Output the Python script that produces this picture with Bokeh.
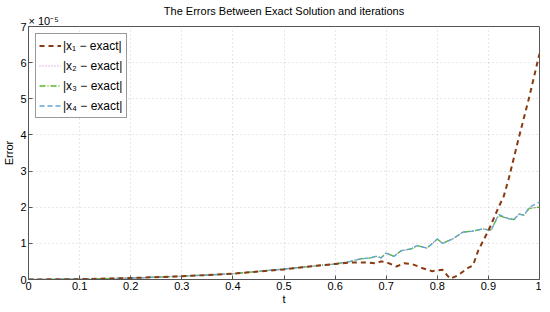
from bokeh.plotting import figure
from bokeh.models import Range1d, FixedTicker, Legend, LegendItem, Title
from bokeh.embed import file_html
from bokeh.resources import INLINE

# values are in units of 1e-5
t1 = [0, 0.1, 0.2, 0.3, 0.4, 0.5, 0.55, 0.6, 0.63, 0.66, 0.68, 0.69, 0.7, 0.72, 0.735,
      0.75, 0.77, 0.79, 0.81, 0.825, 0.84, 0.86, 0.87, 0.88, 0.9, 0.92, 0.93, 0.94,
      0.96, 0.98, 1.0]
x1_err = [0, 0.01, 0.04, 0.09, 0.16, 0.28, 0.36, 0.43, 0.47, 0.47, 0.45, 0.5, 0.48, 0.36,
          0.45, 0.43, 0.32, 0.23, 0.27, 0.02, 0.11, 0.32, 0.39, 0.8, 1.35, 2.0, 2.3, 2.8,
          3.95, 5.05, 6.25]

t2 = [0, 0.1, 0.2, 0.3, 0.4, 0.5, 0.6, 0.63, 0.65, 0.67, 0.68, 0.69, 0.7, 0.715, 0.73,
      0.75, 0.76, 0.78, 0.8, 0.81, 0.83, 0.85, 0.87, 0.89, 0.9, 0.905, 0.92, 0.94, 0.95,
      0.96, 0.97, 0.98, 1.0]
x4_err = [0, 0.01, 0.04, 0.09, 0.16, 0.29, 0.43, 0.5, 0.57, 0.6, 0.64, 0.6, 0.73, 0.64,
          0.8, 0.85, 0.94, 0.87, 1.12, 1.0, 1.12, 1.31, 1.34, 1.4, 1.37, 1.35, 1.8, 1.68,
          1.66, 1.81, 1.78, 2.0, 2.14]
x3_err = [0, 0.01, 0.04, 0.09, 0.16, 0.29, 0.43, 0.5, 0.57, 0.6, 0.64, 0.6, 0.73, 0.64,
          0.8, 0.85, 0.94, 0.87, 1.12, 1.0, 1.12, 1.31, 1.34, 1.4, 1.37, 1.38, 1.77, 1.68,
          1.66, 1.81, 1.78, 1.97, 2.0]
x2_err = list(x3_err)

x_ticks = [0, 0.1, 0.2, 0.3, 0.4, 0.5, 0.6, 0.7, 0.8, 0.9, 1.0]
y_ticks = [0, 1, 2, 3, 4, 5, 6, 7]
x_tick_labels = {0: "0", 0.1: "0.1", 0.2: "0.2", 0.3: "0.3", 0.4: "0.4", 0.5: "0.5",
                 0.6: "0.6", 0.7: "0.7", 0.8: "0.8", 0.9: "0.9", 1.0: "1"}

FONT = "Liberation Sans"

p = figure(frame_width=511, frame_height=253, output_backend="svg", toolbar_location=None,
           x_range=Range1d(0, 1), y_range=Range1d(0, 7),
           min_border_left=21, min_border_right=2, min_border_top=26, min_border_bottom=25,
           x_axis_label="t", y_axis_label="Error")
p.background_fill_color = "white"
p.border_fill_color = "white"
p.outline_line_color = "#555555"
p.outline_line_width = 1

mult_title = Title(text="\u00d7 10\u207b\u2075", align="left", text_font=FONT,
                   text_font_size="11px", text_font_style="normal", text_color="black",
                   standoff=-1, offset=0)
main_title = Title(text="The Errors Between Exact Solution and iterations", align="center",
                   text_font=FONT, text_font_size="11px", text_font_style="normal",
                   text_color="black", standoff=-6, offset=0)
p.add_layout(mult_title, "above")
p.add_layout(main_title, "above")

for ax in (p.xaxis[0], p.yaxis[0]):
    ax.major_label_text_font = FONT
    ax.major_label_text_font_size = "11px"
    ax.major_label_text_color = "black"
    ax.axis_label_text_font = FONT
    ax.axis_label_text_font_size = "11px"
    ax.axis_label_text_font_style = "normal"
    ax.axis_label_text_color = "black"
    ax.major_tick_in = 4
    ax.major_tick_out = 0
    ax.minor_tick_line_color = None
    ax.axis_line_color = "#555555"
    ax.major_tick_line_color = "#555555"
p.xaxis[0].ticker = FixedTicker(ticks=x_ticks)
p.xaxis[0].major_label_overrides = x_tick_labels
p.yaxis[0].ticker = FixedTicker(ticks=y_ticks)
p.xaxis[0].major_label_standoff = 2
p.xaxis[0].axis_label_standoff = 0
p.yaxis[0].major_label_standoff = 2
p.yaxis[0].axis_label_standoff = 2

p.xgrid.ticker = FixedTicker(ticks=x_ticks)
p.ygrid.ticker = FixedTicker(ticks=y_ticks)
for g in (p.xgrid[0], p.ygrid[0]):
    g.grid_line_color = "#cfcfcf"
    g.grid_line_dash = "1 3"
    g.grid_line_width = 1

r2 = p.line(t2, x2_err, line_color="#d070d0", line_width=1.2, line_dash="1 2")
r3 = p.line(t2, x3_err, line_color="#5cb82a", line_width=1.3, line_dash="6 2 1 2")
r4 = p.line(t2, x4_err, line_color="#5fa8d8", line_width=1.3, line_dash="5 3")
r1 = p.line(t1, x1_err, line_color="#8a3a10", line_width=2, line_dash="5 4")

legend = Legend(items=[
    LegendItem(label="|x\u2081 \u2212 exact|", renderers=[r1]),
    LegendItem(label="|x\u2082 \u2212 exact|", renderers=[r2]),
    LegendItem(label="|x\u2083 \u2212 exact|", renderers=[r3]),
    LegendItem(label="|x\u2084 \u2212 exact|", renderers=[r4]),
], location="top_left")
legend.label_text_font = FONT
legend.label_text_font_size = "12px"
legend.label_text_color = "black"
legend.border_line_color = "#333333"
legend.border_line_width = 1
legend.background_fill_color = "white"
legend.background_fill_alpha = 1
legend.margin = 7
legend.padding = 3
legend.spacing = 3
legend.glyph_width = 22
legend.glyph_height = 17
legend.label_standoff = 2
legend.label_height = 17
p.add_layout(legend)

open("out.html", "w").write(file_html(p, INLINE))
